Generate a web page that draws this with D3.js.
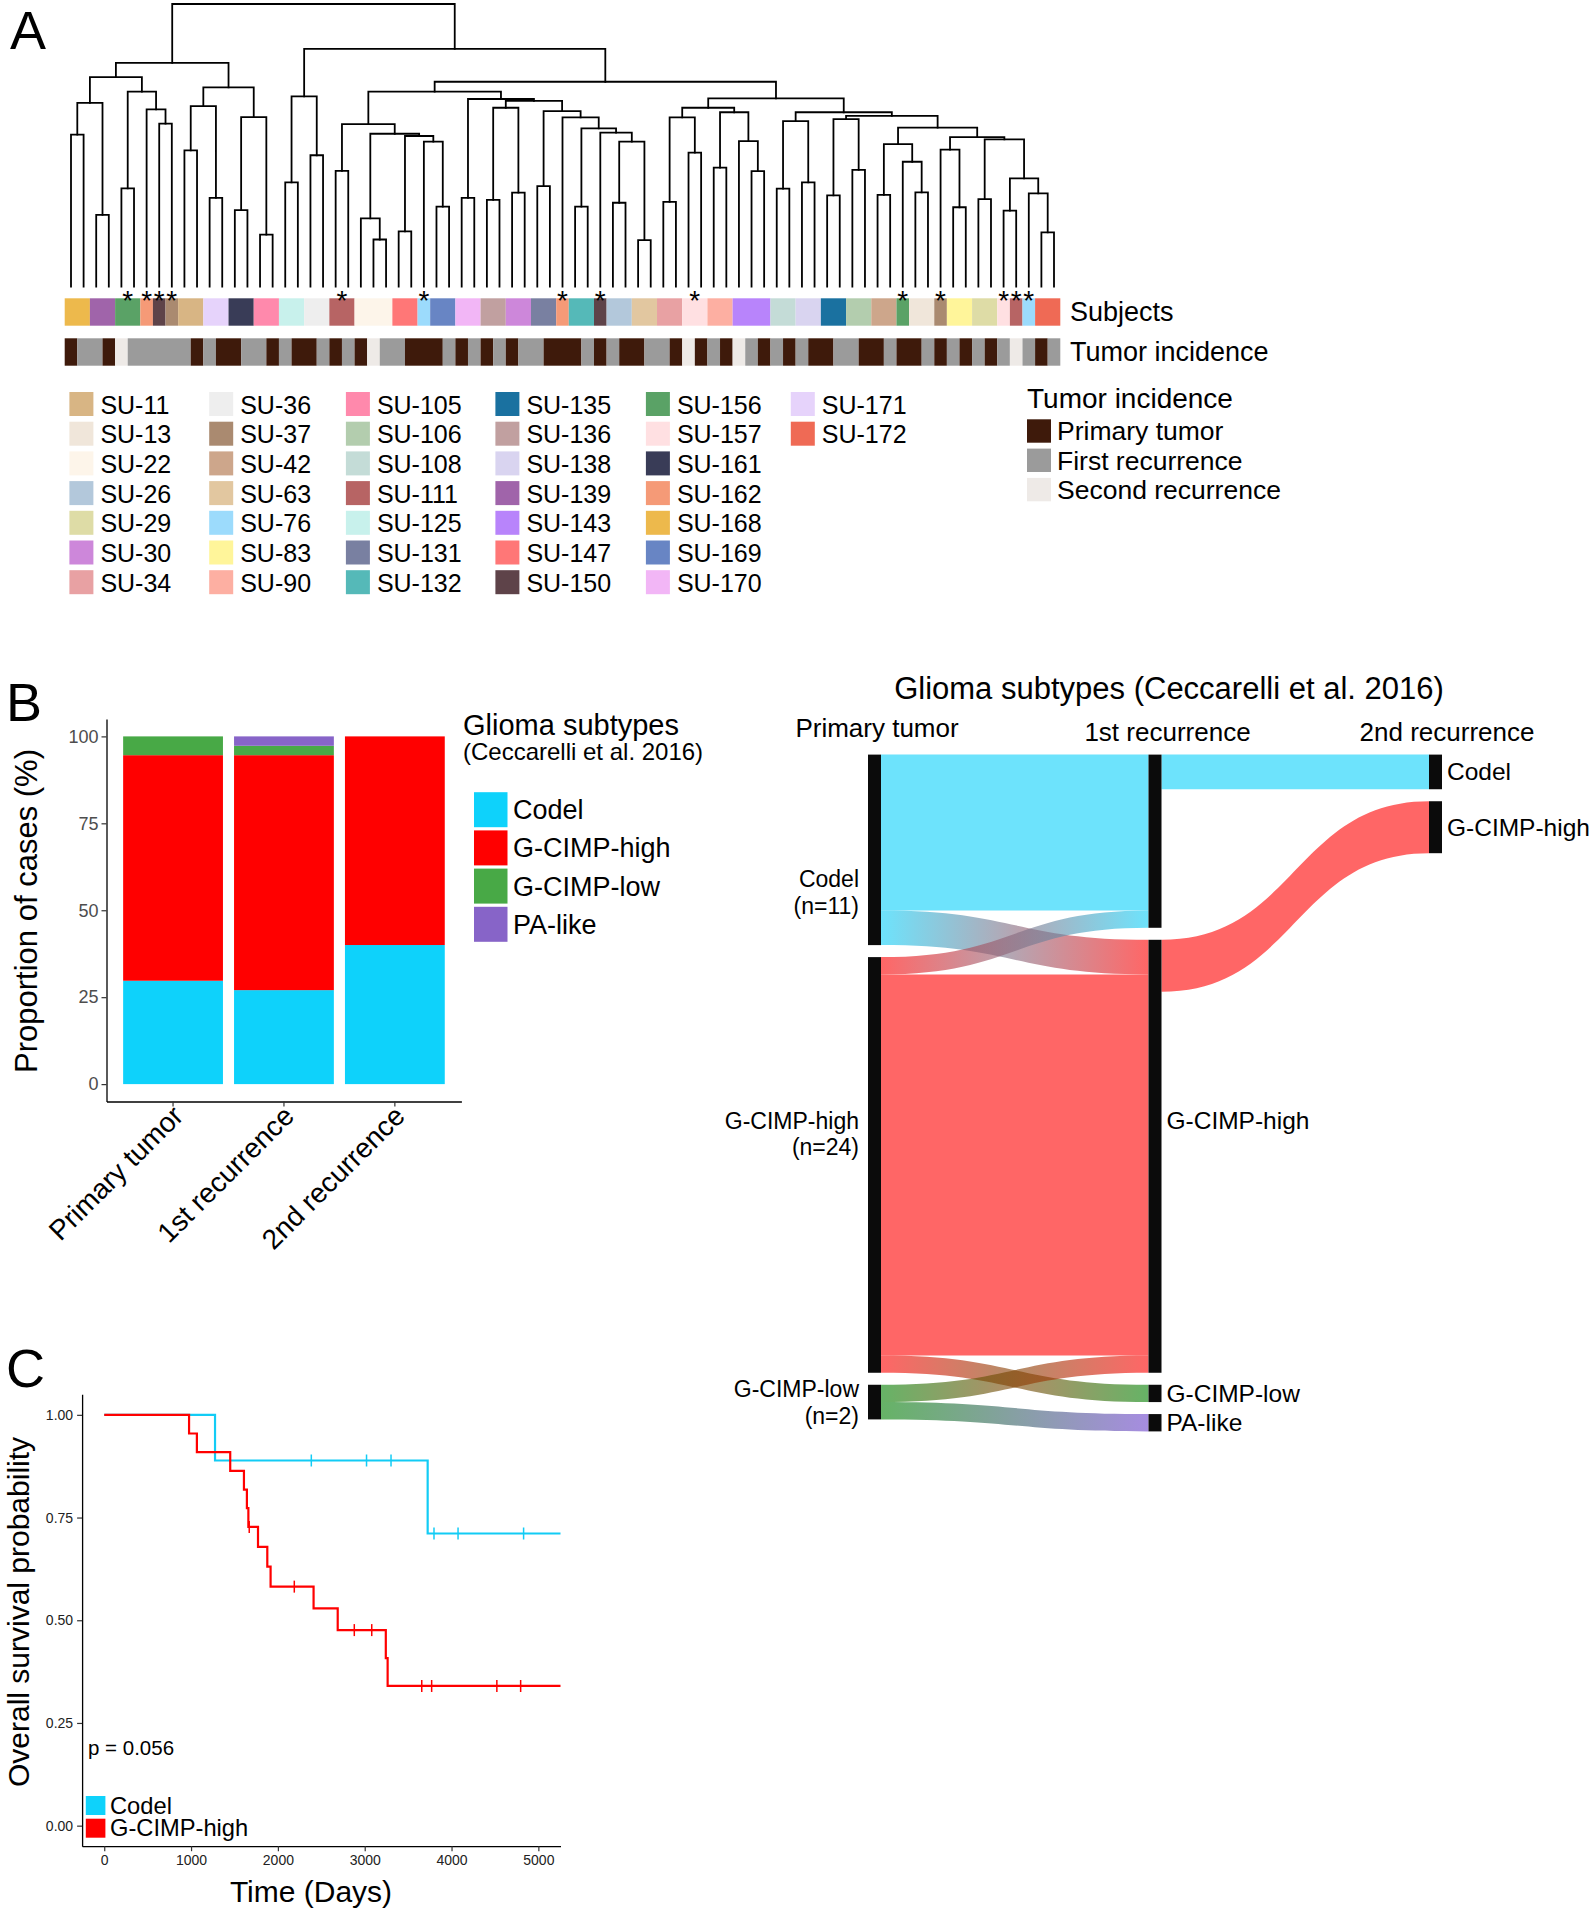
<!DOCTYPE html>
<html><head><meta charset="utf-8">
<script src="https://cdn.jsdelivr.net/npm/d3@7"></script>
<style>
body{margin:0;background:#fff}
svg{display:block}
text{font-family:"Liberation Sans",Arial,Helvetica,sans-serif}
</style>
</head><body>
<svg id="fig" width="1592" height="1916"></svg>
<script>
// ======================= DATA =======================
// Panel A – subjects legend (legend order) and colours
const subjectNames = ["SU-11","SU-13","SU-22","SU-26","SU-29","SU-30","SU-34",
  "SU-36","SU-37","SU-42","SU-63","SU-76","SU-83","SU-90",
  "SU-105","SU-106","SU-108","SU-111","SU-125","SU-131","SU-132",
  "SU-135","SU-136","SU-138","SU-139","SU-143","SU-147","SU-150",
  "SU-156","SU-157","SU-161","SU-162","SU-168","SU-169","SU-170",
  "SU-171","SU-172"];
const subjectColors = ["#D8B584","#F0E6DA","#FDF5EA","#B3C8DB","#DEDCA6","#CD87DA","#E8A1A3",
  "#EEEEEE","#AA8A70","#CDA68B","#E2C7A0","#9CDBFC","#FFF59A","#FDAFA2",
  "#FF89AC","#B3CDAE","#C4DCD7","#B76464","#C8F1EC","#7980A1","#55B9B8",
  "#1A71A0","#C1A0A0","#D9D4F0","#A064AA","#B884FB","#FF7777","#5E4349",
  "#5AA266","#FFE0E2","#393C57","#F59A77","#EDB94C","#6885C4","#F2B6F6",
  "#E6D3FB","#EF6A55"];
// dendrogram leaf order: subject of every sample
const leafSubjects = ["SU-168","SU-168","SU-139","SU-139","SU-156","SU-156","SU-162","SU-150","SU-37","SU-11",
  "SU-11","SU-171","SU-171","SU-161","SU-161","SU-105","SU-105","SU-125","SU-125","SU-36",
  "SU-36","SU-111","SU-111","SU-22","SU-22","SU-22","SU-147","SU-147","SU-76","SU-169",
  "SU-169","SU-170","SU-170","SU-136","SU-136","SU-30","SU-30","SU-131","SU-131","SU-162",
  "SU-132","SU-132","SU-150","SU-26","SU-26","SU-63","SU-63","SU-34","SU-34","SU-157",
  "SU-157","SU-90","SU-90","SU-143","SU-143","SU-143","SU-108","SU-108","SU-138","SU-138",
  "SU-135","SU-135","SU-106","SU-106","SU-42","SU-42","SU-156","SU-13","SU-13","SU-37",
  "SU-83","SU-83","SU-29","SU-29","SU-157","SU-111","SU-76","SU-172","SU-172"];
// tumor incidence of every sample: P primary, F first recurrence, S second recurrence
const leafIncidence = ["P","F","F","P","S","F","F","F","F","F",
  "P","F","P","P","F","F","P","F","P","P",
  "F","P","F","P","S","F","F","P","P","P",
  "F","P","F","P","F","P","F","F","P","P",
  "P","F","P","F","P","P","F","F","P","S",
  "P","F","P","S","F","P","F","P","F","P",
  "P","F","F","P","P","F","P","P","F","P",
  "F","P","F","P","F","S","F","P","F"];
const incidenceCodes = ["P","F","S"];
const incidenceLabels = ["Primary tumor","First recurrence","Second recurrence"];
const incidenceColors = ["#3E1A0B","#9B9B9B","#EEEAE7"];
// hierarchical clustering: [left, right, height] ; integers are leaf indices
const dendrogram =
[
 [
  [[[0,1,0.538],[2,3,0.254],0.650],
   [[4,5,0.348],[6,[7,8,0.577],0.627],0.690],0.741],
  [[[9,10,0.482],[11,12,0.314],0.639],
   [[13,14,0.271],[15,16,0.184],0.600],0.705],
  0.792],
 [
  [[17,18,0.369],[19,20,0.465],0.673],
  [
   [
    [[21,22,0.410],[[23,[24,25,0.167],0.242],[[26,27,0.196],[28,[29,30,0.283],0.513],0.533],0.541],0.575],
    [[31,32,0.314],[[[33,34,0.307],[35,36,0.333],0.633],
      [[37,38,0.356],[39,[[40,41,0.283],[42,[[43,44,0.297],[45,46,0.165],0.513],0.545],0.560],0.599],0.621],0.657],0.664],
    0.690],
   [
    [[[47,48,0.300],[49,50,0.474],0.599],[[51,52,0.421],[53,[54,55,0.409],0.515],0.617],0.633],
    [[[56,57,0.347],[58,59,0.369],0.586],
     [[[60,61,0.323],[62,63,0.413],0.593],
      [[[64,65,0.325],[66,[67,68,0.334],0.442],0.504],
       [[69,[70,71,0.281],0.485],[[72,73,0.310],[[74,75,0.269],[76,[77,78,0.192],0.330],0.383],0.521],0.529],
       0.563],
      0.604],
     0.617],
    0.666],
   0.725],
  0.841],
 1.0
];

// Panel B – subtype counts per stage
const stageLabels = ["Primary tumor","1st recurrence","2nd recurrence"];
const subtypes = ["Codel","G-CIMP-high","G-CIMP-low","PA-like"];
const subtypeColors = ["#0ED2FB","#FF0000","#48A946","#8764C8"];
const codelCounts = [11,10,2];
const gcimpHighCounts = [24,25,3];
const gcimpLowCounts = [2,1,0];
const paLikeCounts = [0,1,0];
// Sankey flows: [from stage, from subtype, to subtype, cases]
const sankeyFlows = [
  [0,"Codel","Codel",9],
  [0,"Codel","G-CIMP-high",2],
  [0,"G-CIMP-high","Codel",1],
  [0,"G-CIMP-high","G-CIMP-high",22],
  [0,"G-CIMP-high","G-CIMP-low",1],
  [0,"G-CIMP-low","G-CIMP-high",1],
  [0,"G-CIMP-low","PA-like",1],
  [1,"Codel","Codel",2],
  [1,"G-CIMP-high","G-CIMP-high",3]
];
const sankeyColors = ["#0CD0FA","#FF0000","#008000","#6B40CC"];

// Panel C – Kaplan-Meier (days, 1 = death, 0 = censored)
const codelTimes  = [1276,2385,3021,3303,3725,3798,4075,4830,5400];
const codelEvents = [1,0,0,0,1,0,0,0,0];
const gcimpTimes  = [977,1067,1451,1609,1643,1660,1670,1771,1878,1916,2189,2411,2689,2880,3081,3243,3264,3657,3771,4522,4796,5400];
const gcimpEvents = [1,1,1,1,1,1,0,1,1,1,0,1,1,0,0,1,1,0,0,0,0,0];
const kmGroups = ["Codel","G-CIMP-high"];
const kmColors = ["#12CCF5","#FF0000"];
const pValueText = "p = 0.056";

// ======================= DRAWING =======================
const svg = d3.select("#fig");
svg.append("rect").attr("width",1592).attr("height",1916).attr("fill","#fff");

[["A",10,49],["B",6,721],["C",6,1387]].forEach(([t,x,y])=>
  svg.append("text").attr("x",x).attr("y",y).attr("font-size",54).attr("fill","#000").text(t));

// ---------- Panel A: dendrogram ----------
const leafIdx = d3.range(leafSubjects.length);
const xLeaf = d3.scaleBand().domain(leafIdx).range([64.7,1060.3]).padding(0);
const yDend = d3.scaleLinear().domain([0,1]).range([286.7,4]);
const gD = svg.append("g").attr("fill","none").attr("stroke","#000")
  .attr("stroke-width",1.8).attr("stroke-linecap","square");
function drawNode(node){
  if(typeof node === "number") return {x:xLeaf(node)+xLeaf.bandwidth()/2, h:0};
  const a = drawNode(node[0]), b = drawNode(node[1]);
  const h = node[2], y = yDend(h);
  const p = d3.path();
  p.moveTo(a.x, yDend(a.h)); p.lineTo(a.x, y); p.lineTo(b.x, y); p.lineTo(b.x, yDend(b.h));
  gD.append("path").attr("d", p.toString());
  return {x:(a.x+b.x)/2, h};
}
drawNode(dendrogram);

function runs(arr){
  const out=[]; let s=0;
  for(let i=1;i<=arr.length;i++){
    if(i===arr.length || arr[i]!==arr[s]){ out.push({v:arr[s], a:s, b:i-1}); s=i; }
  }
  return out;
}
const subjColor = d3.scaleOrdinal().domain(subjectNames).range(subjectColors);
const incColor = d3.scaleOrdinal().domain(incidenceCodes).range(incidenceColors);
const subjRuns = runs(leafSubjects);
svg.append("g").selectAll("rect").data(subjRuns).join("rect")
  .attr("x",d=>xLeaf(d.a)).attr("width",d=>xLeaf(d.b)+xLeaf.bandwidth()-xLeaf(d.a))
  .attr("y",298.3).attr("height",27.4).attr("fill",d=>subjColor(d.v));
svg.append("g").selectAll("rect").data(runs(leafIncidence)).join("rect")
  .attr("x",d=>xLeaf(d.a)).attr("width",d=>xLeaf(d.b)+xLeaf.bandwidth()-xLeaf(d.a))
  .attr("y",338.3).attr("height",27.4).attr("fill",d=>incColor(d.v));
// asterisks: subjects whose samples are split in the tree
const runCount = d3.rollup(subjRuns, v=>v.length, d=>d.v);
svg.append("g").selectAll("text").data(subjRuns.filter(d=>runCount.get(d.v)>1)).join("text")
  .attr("x",d=>(xLeaf(d.a)+xLeaf(d.b)+xLeaf.bandwidth())/2).attr("y",310)
  .attr("text-anchor","middle").attr("font-size",28).text("*");
svg.append("text").attr("x",1070).attr("y",312).attr("dominant-baseline","central").attr("font-size",27).text("Subjects");
svg.append("text").attr("x",1070).attr("y",352).attr("dominant-baseline","central").attr("font-size",27).text("Tumor incidence");

// subject legend
const legColX = [69.4,209.2,345.9,495.4,645.9,790.8];
const gL = svg.append("g");
subjectNames.forEach((s,i)=>{
  const c=Math.floor(i/7), r=i%7;
  const y0 = 392 + r*29.7;
  gL.append("rect").attr("x",legColX[c]).attr("y",y0).attr("width",24).attr("height",24).attr("fill",subjectColors[i]);
  gL.append("text").attr("x",legColX[c]+31).attr("y",y0+12.5).attr("dominant-baseline","central")
    .attr("font-size",25).text(s);
});
// tumor incidence legend
gL.append("text").attr("x",1027).attr("y",408).attr("font-size",28).text("Tumor incidence");
incidenceLabels.forEach((l,i)=>{
  const y0 = 419.3 + i*29.3;
  gL.append("rect").attr("x",1027).attr("y",y0).attr("width",24).attr("height",23.4).attr("fill",incidenceColors[i]);
  gL.append("text").attr("x",1057).attr("y",y0+12).attr("dominant-baseline","central").attr("font-size",26.5).text(l);
});

// ---------- Panel B: stacked bars ----------
const countsBy = {"Codel":codelCounts,"G-CIMP-high":gcimpHighCounts,"G-CIMP-low":gcimpLowCounts,"PA-like":paLikeCounts};
const rowsB = stageLabels.map((st,i)=>{
  const tot = d3.sum(subtypes, k=>countsBy[k][i]);
  const r = {stage:st}; subtypes.forEach(k=>r[k]=100*countsBy[k][i]/tot); return r;
});
const stackB = d3.stack().keys(subtypes)(rowsB);
const xB = d3.scaleBand().domain(stageLabels).range([106.5,461.4]).paddingInner(0.1).paddingOuter(0.15);
const yB = d3.scaleLinear().domain([-5,105]).range([1101.5,719]);
const subColor = d3.scaleOrdinal().domain(subtypes).range(subtypeColors);
const gB = svg.append("g");
stackB.forEach(layer=>{
  gB.append("g").selectAll("rect").data(layer.filter(d=>d[1]-d[0]>0)).join("rect")
    .attr("x",d=>xB(d.data.stage)).attr("width",xB.bandwidth())
    .attr("y",d=>yB(d[1])).attr("height",d=>yB(d[0])-yB(d[1]))
    .attr("fill",subColor(layer.key));
});
const axL = gB.append("g").attr("transform","translate(106.5,0)")
  .call(d3.axisLeft(yB).tickValues([0,25,50,75,100]).tickSize(5).tickSizeOuter(0).tickPadding(3));
axL.select(".domain").attr("stroke","#000").attr("stroke-width",1.3);
axL.selectAll(".tick line").attr("stroke","#333").attr("stroke-width",1.2);
axL.selectAll(".tick text").attr("fill","#4D4D4D").attr("font-size",18).attr("font-family",null);
const axB = gB.append("g").attr("transform","translate(0,1101.5)")
  .call(d3.axisBottom(xB).tickSize(5).tickSizeOuter(0));
axB.select(".domain").attr("stroke","#000").attr("stroke-width",1.3);
axB.selectAll(".tick line").attr("stroke","#333").attr("stroke-width",1.2);
axB.selectAll(".tick text").remove();
stageLabels.forEach(st=>{
  const x = xB(st)+xB.bandwidth()/2;
  gB.append("text").attr("transform",`translate(${x+5},1111) rotate(-45)`)
    .attr("text-anchor","end").attr("dominant-baseline","central").attr("font-size",28).text(st);
});
gB.append("text").attr("transform","translate(36.5,911) rotate(-90)").attr("text-anchor","middle")
  .attr("font-size",31).text("Proportion of cases (%)");
gB.append("text").attr("x",463).attr("y",735).attr("font-size",29).text("Glioma subtypes");
gB.append("text").attr("x",463).attr("y",760).attr("font-size",24).text("(Ceccarelli et al. 2016)");
subtypes.forEach((k,i)=>{
  const y0 = 792.2 + i*38.2;
  gB.append("rect").attr("x",474).attr("y",y0).attr("width",33.5).attr("height",35).attr("fill",subtypeColors[i]);
  gB.append("text").attr("x",513).attr("y",y0+18).attr("dominant-baseline","central").attr("font-size",27).text(k);
});

// ---------- Panel B: Sankey ----------
const gS = svg.append("g");
const nodeX = d3.scaleLinear().domain([0,2]).range([868,1429]);
const nodeW = 13, sTop = 754.6, sGap = 12;
const caseH = d3.scaleLinear().domain([0,37]).range([0,640.8]);
const sCol = d3.scaleOrdinal().domain(subtypes).range(sankeyColors);
const flows = sankeyFlows.map(f=>({s:f[0], from:f[1], to:f[2], n:f[3]}));
const nodes = [];
[0,1,2].forEach(s=>{
  let y = sTop;
  subtypes.forEach(t=>{
    const outN = d3.sum(flows.filter(f=>f.s===s && f.from===t), f=>f.n);
    const inN = d3.sum(flows.filter(f=>f.s===s-1 && f.to===t), f=>f.n);
    const v = Math.max(outN,inN);
    if(v>0){ nodes.push({s,t,v,y0:y,y1:y+caseH(v)}); y += caseH(v)+sGap; }
  });
});
const findNode=(s,t)=>nodes.find(n=>n.s===s && n.t===t);
const si = t=>subtypes.indexOf(t);
const outCur = new Map(), inCur = new Map();
flows.slice().sort((a,b)=>a.s-b.s || si(a.from)-si(b.from) || si(a.to)-si(b.to)).forEach(f=>{
  const nd = findNode(f.s,f.from); const c = outCur.get(nd)||0;
  f.sy0 = nd.y0 + caseH(c); f.sy1 = nd.y0 + caseH(c+f.n); outCur.set(nd,c+f.n);
});
flows.slice().sort((a,b)=>a.s-b.s || si(a.to)-si(b.to) || si(a.from)-si(b.from)).forEach(f=>{
  const nd = findNode(f.s+1,f.to); const c = inCur.get(nd)||0;
  f.ty0 = nd.y0 + caseH(c); f.ty1 = nd.y0 + caseH(c+f.n); inCur.set(nd,c+f.n);
});
const defs = svg.append("defs");
flows.forEach((f,i)=>{
  const x0 = nodeX(f.s)+nodeW, x1 = nodeX(f.s+1), xm=(x0+x1)/2;
  const p = d3.path();
  p.moveTo(x0,f.sy0); p.bezierCurveTo(xm,f.sy0,xm,f.ty0,x1,f.ty0);
  p.lineTo(x1,f.ty1); p.bezierCurveTo(xm,f.ty1,xm,f.sy1,x0,f.sy1); p.closePath();
  let fill = sCol(f.from);
  if(f.from!==f.to){
    const g = defs.append("linearGradient").attr("id","fg"+i).attr("gradientUnits","userSpaceOnUse")
      .attr("x1",x0).attr("x2",x1).attr("y1",0).attr("y2",0);
    g.append("stop").attr("offset","0%").attr("stop-color",sCol(f.from));
    g.append("stop").attr("offset","100%").attr("stop-color",sCol(f.to));
    fill = `url(#fg${i})`;
  }
  gS.append("path").attr("d",p.toString()).attr("fill",fill).attr("fill-opacity",0.6);
});
gS.selectAll("rect.node").data(nodes).join("rect").attr("class","node")
  .attr("x",d=>nodeX(d.s)).attr("y",d=>d.y0).attr("width",nodeW).attr("height",d=>d.y1-d.y0)
  .attr("fill","#0B0B0B");
const labelShift = {"0-Codel":41.6,"0-G-CIMP-high":-32.3,"0-G-CIMP-low":-1,"1-G-CIMP-high":-36};
nodes.forEach(nd=>{
  if(nd.s===1 && nd.t==="Codel") return;
  const cy = (nd.y0+nd.y1)/2 + (labelShift[nd.s+"-"+nd.t]||0);
  if(nd.s===0){
    gS.append("text").attr("x",nodeX(0)-9).attr("y",cy-4).attr("text-anchor","end")
      .attr("font-size",23).text(nd.t);
    gS.append("text").attr("x",nodeX(0)-9).attr("y",cy+22.5).attr("text-anchor","end")
      .attr("font-size",23).text(`(n=${nd.v})`);
  } else {
    gS.append("text").attr("x",nodeX(nd.s)+nodeW+5).attr("y",cy).attr("dominant-baseline","central")
      .attr("font-size",24.5).text(nd.t);
  }
});
gS.append("text").attr("x",1169).attr("y",699).attr("text-anchor","middle").attr("font-size",31)
  .text("Glioma subtypes (Ceccarelli et al. 2016)");
[[877,737],[1167.5,741],[1447,741]].forEach((p,i)=>
  gS.append("text").attr("x",p[0]).attr("y",p[1]).attr("text-anchor","middle").attr("font-size",26).text(stageLabels[i]));

// ---------- Panel C: Kaplan-Meier ----------
const gK = svg.append("g");
const xK = d3.scaleLinear().domain([-255,5255]).range([82.1,560.5]);
const yK = d3.scaleLinear().domain([-0.05,1.05]).range([1846.2,1394.3]);
defs.append("clipPath").attr("id","kmclip").append("rect")
  .attr("x",82.1).attr("y",1390).attr("width",560.5-82.1).attr("height",1846.2-1390);
function km(times, events){
  const idx = d3.range(times.length).sort((a,b)=>times[a]-times[b]);
  let nRisk = times.length, S = 1; const pts=[[0,1]], cens=[];
  let i=0;
  while(i<idx.length){
    const t = times[idx[i]]; let d=0, c=0;
    while(i<idx.length && times[idx[i]]===t){ if(events[idx[i]]) d++; else c++; i++; }
    if(d>0){ S *= (1-d/nRisk); pts.push([t,S]); }
    if(c>0) cens.push([t,S]);
    nRisk -= d+c;
  }
  pts.push([d3.max(times),S]);
  return {pts,cens};
}
const kmData = [km(codelTimes,codelEvents), km(gcimpTimes,gcimpEvents)];
const kmLine = d3.line().x(d=>xK(d[0])).y(d=>yK(d[1])).curve(d3.curveStepAfter);
const gKc = gK.append("g").attr("clip-path","url(#kmclip)");
kmData.forEach((k,gi)=>{
  gKc.append("path").attr("d",kmLine(k.pts)).attr("fill","none").attr("stroke",kmColors[gi]).attr("stroke-width",2.2);
  gKc.selectAll(null).data(k.cens).join("line")
    .attr("x1",d=>xK(d[0])).attr("x2",d=>xK(d[0])).attr("y1",d=>yK(d[1])-6).attr("y2",d=>yK(d[1])+6)
    .attr("stroke",kmColors[gi]).attr("stroke-width",1.5);
});
const akL = gK.append("g").attr("transform","translate(82.1,0)")
  .call(d3.axisLeft(yK).tickValues([0,0.25,0.5,0.75,1]).tickFormat(d3.format(".2f")).tickSize(5).tickSizeOuter(0).tickPadding(4));
const akB = gK.append("g").attr("transform","translate(0,1846.2)")
  .call(d3.axisBottom(xK).tickValues([0,1000,2000,3000,4000,5000]).tickFormat(d3.format("d")).tickSize(5).tickSizeOuter(0).tickPadding(4));
[akL,akB].forEach(a=>{
  a.select(".domain").attr("stroke","#000").attr("stroke-width",1.3);
  a.selectAll(".tick line").attr("stroke","#333").attr("stroke-width",1.2);
  a.selectAll(".tick text").attr("fill","#222").attr("font-size",14).attr("font-family",null);
});
gK.append("text").attr("transform","translate(29,1612) rotate(-90)").attr("text-anchor","middle")
  .attr("font-size",30).text("Overall survival probability");
gK.append("text").attr("x",311).attr("y",1902).attr("text-anchor","middle").attr("font-size",30).text("Time (Days)");
gK.append("text").attr("x",88).attr("y",1755).attr("font-size",20.5).text(pValueText);
kmGroups.forEach((g,i)=>{
  const y0 = 1796 + i*22.7;
  gK.append("rect").attr("x",85.8).attr("y",y0).attr("width",19.6).attr("height",19).attr("fill",subtypeColors[i]);
  gK.append("text").attr("x",110).attr("y",y0+9.5).attr("dominant-baseline","central").attr("font-size",23.7).text(g);
});
</script>
</body></html>
